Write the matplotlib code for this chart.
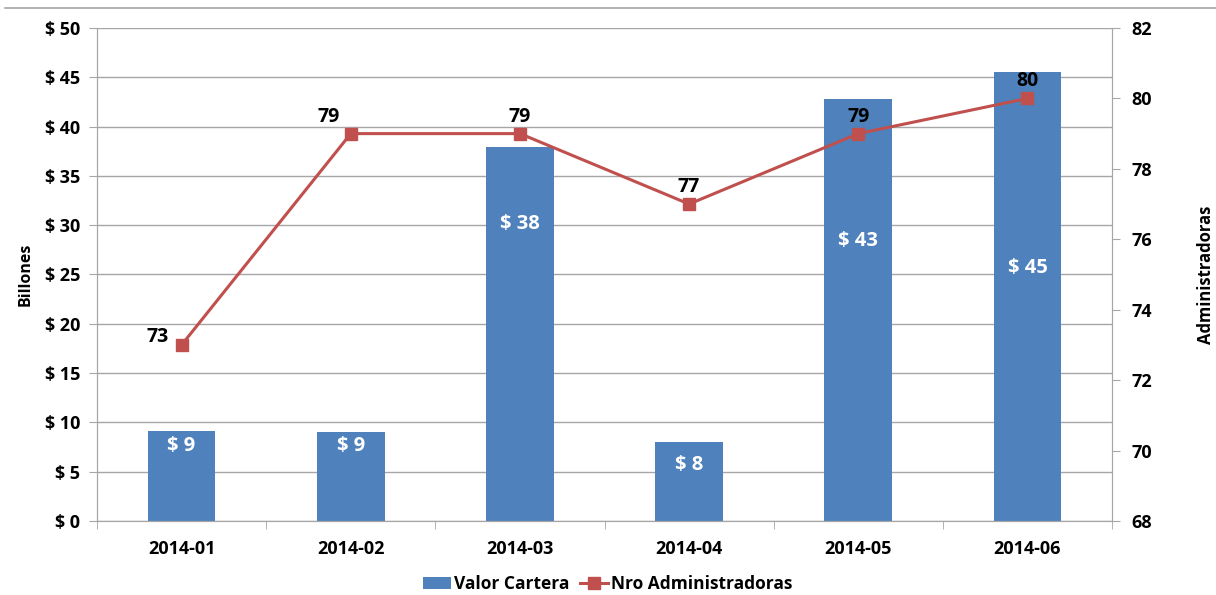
import numpy as np
import matplotlib.pyplot as plt
from matplotlib.lines import Line2D

plt.rcParams['font.family'] = ['Open Sans', 'DejaVu Sans']
plt.rcParams['font.weight'] = 'bold'

meses = ['2014-01', '2014-02', '2014-03', '2014-04', '2014-05', '2014-06']
valor_cartera = [9.15, 9.05, 37.9, 8.05, 42.8, 45.5]
nro_admin = [73, 79, 79, 77, 79, 80]

# where the white value labels sit inside the bars (left axis units)
pos_etiqueta = [7.6, 7.6, 30.1, 5.7, 28.4, 25.7]
# shift of the line labels from their marker (category units, right axis units)
desp_x = [-0.14, -0.13, 0, 0, 0, 0]
desp_y = [0.22, 0.48, 0.48, 0.48, 0.48, 0.48]

azul = '#4f81bd'
rojo = '#c0504d'
gris = '#a6a6a6'

fig = plt.figure(figsize=(12.16, 5.95), dpi=100)
ax = fig.add_axes([0.0798, 0.1244, 0.8347, 0.8286])
ax2 = ax.twinx()

x = np.arange(len(meses))
ax.bar(x, valor_cartera, width=0.4, color=azul, zorder=2, label='Valor Cartera')
for xi, v, p in zip(x, valor_cartera, pos_etiqueta):
    ax.text(xi, p, '$ %d' % round(v - 0.1), color='white', fontsize=14.5,
            fontweight='bold', ha='center', va='center', zorder=3)

ax2.plot(x, nro_admin, color=rojo, lw=2.2, marker='s', ms=8,
         label='Nro Administradoras', zorder=4)
for xi, v, dx, dy in zip(x, nro_admin, desp_x, desp_y):
    ax2.text(xi + dx, v + dy, str(v), color='black', fontsize=14,
             fontweight='bold', ha='center', va='center', zorder=5)

ax.set_xlim(-0.5, 5.5)
ax.set_ylim(0, 50)
ax.set_yticks(np.arange(0, 51, 5))
ax.set_yticklabels(['$ %d' % t for t in range(0, 51, 5)])
ax2.set_ylim(68, 82)
ax2.set_yticks(np.arange(68, 83, 2))

ax.set_xticks(x)
ax.set_xticklabels(meses)
ax.set_xticks(np.arange(-0.5, 6, 1), minor=True)
ax.tick_params(axis='x', which='major', length=0, pad=14, labelsize=13)
ax.tick_params(axis='x', which='minor', length=6, color=gris)
ax.tick_params(axis='y', length=6, color=gris, labelsize=13, pad=6)
ax2.tick_params(axis='y', length=6, color=gris, labelsize=13, pad=8)

ax.grid(axis='y', color=gris, lw=1, zorder=0)
ax.set_axisbelow(True)
for a in (ax, ax2):
    a.spines['top'].set_visible(False)
    for s in ('left', 'right', 'bottom'):
        a.spines[s].set_color(gris)
ax2.set_zorder(ax.get_zorder() + 1)
ax2.patch.set_visible(False)

ax.set_ylabel('Billones', fontsize=11.5, fontweight='bold', labelpad=8)
ax2.set_ylabel('Administradoras', fontsize=12, fontweight='bold', labelpad=32)

h1, l1 = ax.get_legend_handles_labels()
h2, l2 = ax2.get_legend_handles_labels()
fig.legend(h1 + h2, l1 + l2, loc='center', bbox_to_anchor=(0.5, 0.018),
           ncol=2, frameon=False, fontsize=12.5, handlelength=1.6,
           columnspacing=0.6, handletextpad=0.2)

fig.add_artist(Line2D([0.004, 1], [0.986, 0.986], color=gris, lw=1.2))

fig.savefig('out.png', dpi=100)
